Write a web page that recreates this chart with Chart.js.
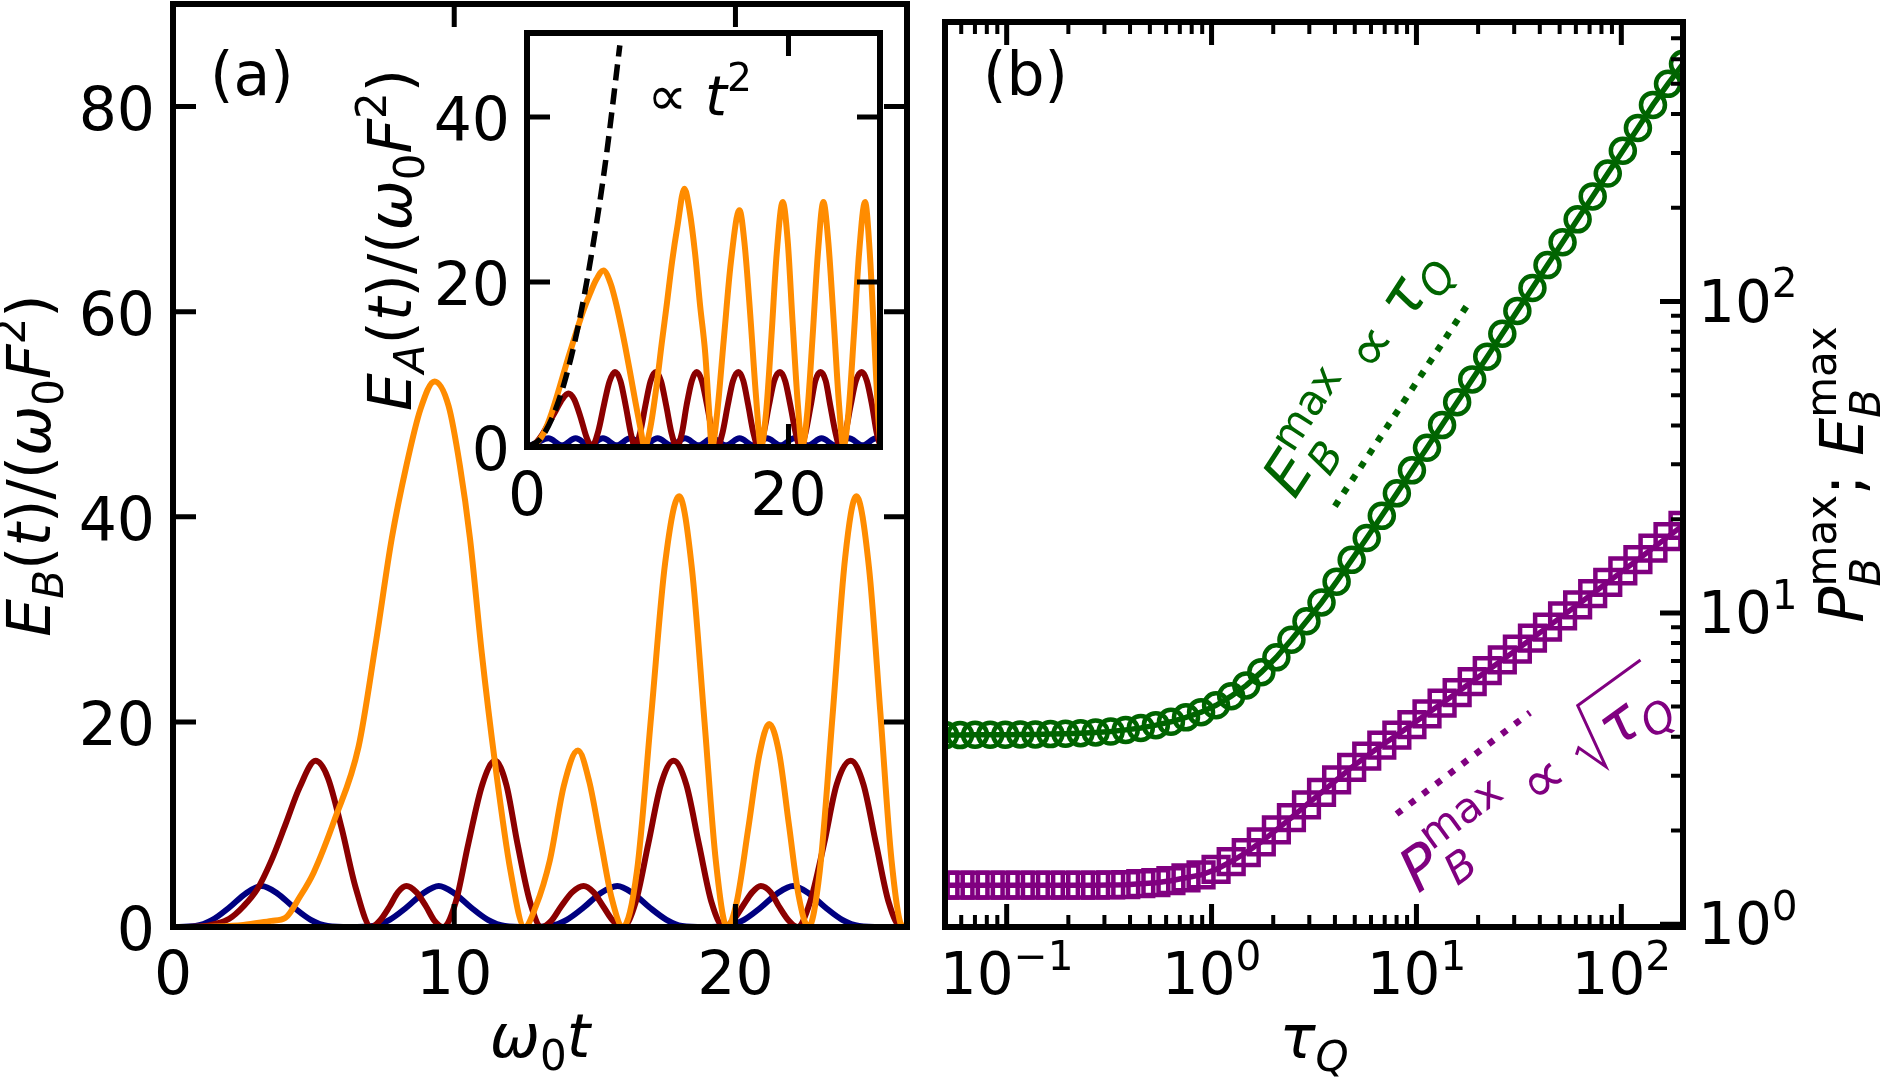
<!DOCTYPE html>
<html>
<head>
<meta charset="utf-8">
<script src="https://cdn.jsdelivr.net/npm/chart.js@4.4.1/dist/chart.umd.min.js"></script>
<style>
  html, body { margin: 0; padding: 0; background: #fff; overflow: hidden; }
  #wrap { position: relative; width: 1880px; height: 1077px; }
  canvas { position: absolute; }
</style>
</head>
<body>
<div id="wrap">
  <canvas id="chartA" width="940" height="1077" style="left:0px;top:0px"></canvas>
  <canvas id="chartInset" width="600" height="540" style="left:330px;top:0px"></canvas>
  <canvas id="chartB" width="960" height="1077" style="left:920px;top:0px"></canvas>
</div>
<script>
// ---------- panel (a): E_B(t) ----------
const tNavyB = [0, 0.8, 1.4, 2.0, 2.6, 3.15, 3.7, 4.3, 4.9, 5.5, 6.3,
  7.1, 7.7, 8.3, 8.9, 9.45, 10.0, 10.6, 11.2, 11.8, 12.6,
  13.4, 14.0, 14.6, 15.2, 15.8, 16.35, 16.95, 17.55, 18.1, 18.9,
  19.7, 20.3, 20.9, 21.5, 22.05, 22.6, 23.2, 23.8, 24.4, 25.2, 26.1];
const eNavyB = [0, 0.1, 0.7, 1.9, 3.3, 4.0, 3.3, 1.9, 0.7, 0.1, 0,
  0.1, 0.7, 1.9, 3.3, 4.0, 3.3, 1.9, 0.7, 0.1, 0,
  0.1, 0.7, 1.9, 3.3, 4.0, 3.3, 1.9, 0.7, 0.1, 0,
  0.1, 0.7, 1.9, 3.3, 4.0, 3.3, 1.9, 0.7, 0.1, 0, 0];

const tRedB = [0, 1.0, 1.5, 2.0, 2.5, 3.0, 3.5, 4.0, 4.5, 5.07, 5.5, 6.0, 6.5, 7.05,
  7.35, 7.7, 8.0, 8.3, 8.65, 9.0, 9.3, 9.6,
  10.05, 10.5, 11.0, 11.45, 11.85, 12.25, 12.7, 13.1,
  13.45, 13.8, 14.2, 14.6, 14.95, 15.3, 15.65, 16.0,
  16.45, 16.9, 17.35, 17.8, 18.25, 18.7, 19.15, 19.6,
  19.9, 20.25, 20.6, 20.9, 21.25, 21.55, 21.9, 22.2,
  22.65, 23.15, 23.6, 24.1, 24.55, 25.0, 25.45, 25.9, 26.1];
const eRedB = [0, 0.05, 0.3, 0.8, 2.0, 3.7, 6.5, 10.0, 13.6, 16.2, 14.6, 9.6, 3.8, 0,
  0.6, 2.0, 3.4, 4.0, 3.4, 2.0, 0.6, 0,
  2.4, 8.1, 13.9, 16.2, 13.9, 8.1, 2.4, 0,
  0.6, 2.0, 3.4, 4.0, 3.4, 2.0, 0.6, 0,
  2.4, 8.1, 13.9, 16.2, 13.9, 8.1, 2.4, 0,
  0.6, 2.0, 3.4, 4.0, 3.4, 2.0, 0.6, 0,
  2.4, 8.1, 13.9, 16.2, 13.9, 8.1, 2.4, 0, 0.2];

const tOrangeB = [0, 1.5, 2.5, 3.5, 4.0, 4.5, 5.0, 5.75, 6.6, 7.2, 7.78, 8.3, 8.8, 9.3, 9.8, 10.2, 10.56, 10.98, 11.45, 12.0, 12.5,
  12.9, 13.4, 13.9, 14.4, 14.8, 15.2, 15.6, 16.0,
  16.5, 17.0, 17.5, 18.0, 18.45, 18.9, 19.3, 19.7,
  20.05, 20.45, 20.85, 21.2, 21.55, 21.9, 22.25, 22.6,
  23.0, 23.45, 23.9, 24.3, 24.75, 25.15, 25.55, 25.95, 26.1];
const eOrangeB = [0, 0.05, 0.2, 0.6, 0.9, 2.9, 5.3, 10.5, 17.6, 27.5, 37.9, 45, 50.5, 53.2, 50.8, 45, 37.9, 26.7, 16, 5.5, 0,
  2.0, 6.5, 13.8, 17.2, 14.2, 8.5, 2.8, 0,
  5.5, 20.5, 35.5, 42, 35, 20, 6.5, 0,
  2.5, 9.5, 16.8, 19.8, 17, 10, 3, 0,
  5.5, 20.5, 36, 42, 35, 21, 6.5, 0, 0.3];

const xTicksA = [0, 10, 20];
const yTicksA = [0, 20, 40, 60, 80];

// ---------- inset: E_A(t) ----------
const tNavyA = [0, 0.8, 1.63, 2.68, 3.72, 4.77, 5.81, 6.86, 7.9, 8.95, 9.99, 11.04, 12.08, 13.13,
  14.17, 15.22, 16.26, 17.31, 18.35, 19.4, 20.44, 21.49, 22.53, 23.58, 24.62, 25.67, 26.71, 27.0];
const eNavyA = [0, 0.55, 1.05, 0.2, 1.05, 0.2, 1.05, 0.2, 1.05, 0.2, 1.05, 0.2, 1.05, 0.2,
  1.05, 0.2, 1.05, 0.2, 1.05, 0.2, 1.05, 0.2, 1.05, 0.2, 1.05, 0.2, 1.05, 0.95];

const tRedA = [0, 0.6, 1.2, 1.7, 2.2, 2.7, 3.16, 3.6, 4.1, 4.55, 4.95,
  5.45, 5.9, 6.3, 6.73, 7.15, 7.55, 7.95, 8.26,
  8.65, 9.05, 9.45, 9.85, 10.25, 10.65, 11.05, 11.45,
  11.85, 12.2, 12.6, 12.98, 13.38, 13.78, 14.18, 14.56,
  14.95, 15.35, 15.75, 16.17, 16.55, 16.93, 17.32, 17.7,
  18.1, 18.5, 18.9, 19.35, 19.75, 20.15, 20.55, 20.9,
  21.3, 21.7, 22.05, 22.45, 22.85, 23.2, 23.6, 23.95,
  24.35, 24.75, 25.15, 25.6, 26.0, 26.4, 26.75, 27.0];
const eRedA = [0, 0.4, 1.6, 3.0, 4.4, 5.8, 6.5, 5.8, 3.6, 1.2, 0,
  1.9, 5.2, 7.9, 9.1, 8.0, 5.0, 1.6, 0,
  1.7, 5.0, 8.0, 9.1, 8.0, 5.0, 1.7, 0,
  1.7, 5.0, 8.0, 9.1, 8.0, 5.0, 1.7, 0,
  1.7, 5.0, 8.0, 9.1, 8.0, 5.0, 1.7, 0,
  1.7, 5.0, 8.0, 9.1, 8.0, 5.0, 1.7, 0,
  1.7, 5.0, 8.0, 9.1, 8.0, 5.0, 1.7, 0,
  1.7, 5.0, 8.0, 9.1, 8.0, 5.0, 1.7, 0.2];

const tOrangeA = [0, 0.6, 1.25, 1.9, 2.5, 3.15, 3.8, 4.3, 4.82, 5.3, 5.84, 6.4, 6.8, 7.1, 7.5, 7.9, 8.3, 8.65, 9.0,
  9.45, 9.9, 10.3, 10.7, 11.1, 11.5, 12.04, 12.45, 12.86, 13.25, 13.63, 13.9, 14.15,
  14.55, 15.05, 15.6, 16.25, 16.65, 17.1, 17.5, 17.9,
  18.3, 18.7, 19.1, 19.56, 19.95, 20.3, 20.7, 21.05,
  21.45, 21.85, 22.25, 22.67, 23.05, 23.45, 23.85, 24.2,
  24.6, 25.0, 25.4, 25.86, 26.2, 26.55, 26.85, 27.0];
const eOrangeA = [0, 0.3, 1.6, 4.2, 7.3, 10.8, 14.1, 16.5, 18.6, 20.3, 21.4, 19.8, 17.5, 15.4, 12.3, 8.9, 5.4, 2.5, 0,
  2.5, 7.3, 12.5, 17.4, 22.5, 26.7, 31.3, 28.5, 23.4, 17, 11.4, 5.0, 0,
  4.2, 13, 22.5, 28.7, 24.5, 15.5, 6.5, 0,
  4.4, 13.5, 23.5, 29.7, 24.8, 15.5, 5.5, 0,
  4.4, 13.5, 23.5, 29.7, 24.8, 15.5, 5.5, 0,
  4.4, 13.5, 23.5, 29.7, 24, 13.5, 4, 0.8];

// dashed guide, grows like t^2
const tGuide = [0, 1, 2, 3, 4, 5, 6, 7.1];
const eGuide = [0, 0.95, 3.8, 8.6, 15.3, 24, 34.5, 48.7];

const xTicksInset = [0, 20];
const yTicksInset = [0, 20, 40];

// ---------- panel (b): maxima vs tau_Q ----------
const tauQ = [0.05, 0.0592, 0.0701, 0.0831, 0.0984, 0.1165, 0.138, 0.1635, 0.1937, 0.2294,
  0.2717, 0.3218, 0.3812, 0.4515, 0.5348, 0.6334, 0.7502, 0.8886, 1.052, 1.247,
  1.477, 1.749, 2.072, 2.454, 2.906, 3.442, 4.077, 4.829, 5.72, 6.776,
  8.025, 9.506, 11.26, 13.34, 15.8, 18.71, 22.16, 26.25, 31.09, 36.83,
  43.62, 51.67, 61.2, 72.49, 85.86, 101.7, 120.5, 142.7, 169.0, 200];
const eMax = [4.05, 4.05, 4.06, 4.06, 4.06, 4.07, 4.07, 4.08, 4.09, 4.11,
  4.13, 4.16, 4.21, 4.27, 4.36, 4.47, 4.62, 4.80, 5.05, 5.40,
  5.85, 6.45, 7.20, 8.20, 9.40, 10.8, 12.6, 14.8, 17.4, 20.5,
  24.2, 28.7, 33.9, 40.1, 47.5, 56.2, 66.5, 78.8, 93.3, 110.5,
  130.9, 155.0, 183.6, 217.5, 257.6, 305, 361, 428, 500, 580];
const pMax = [1.335, 1.335, 1.335, 1.335, 1.335, 1.335, 1.335, 1.335, 1.335, 1.335,
  1.335, 1.337, 1.34, 1.35, 1.36, 1.38, 1.41, 1.44, 1.50, 1.59,
  1.70, 1.84, 2.01, 2.20, 2.42, 2.65, 2.91, 3.19, 3.47, 3.76,
  4.05, 4.38, 4.74, 5.13, 5.55, 6.02, 6.52, 7.06, 7.65, 8.30,
  9.00, 9.78, 10.62, 11.54, 12.54, 13.64, 14.84, 16.15, 17.57, 19.1];

// dotted guides: E ~ tau, P ~ sqrt(tau)
const tauGuideE = [4.0, 18.2];
const eGuideLine = [22.0, 100.1];
const tauGuideP = [8.0, 35.8];
const pGuideLine = [2.26, 4.78];

const xMajorB = [0.1, 1, 10, 100];
const xExpB = ['\u22121', '0', '1', '2'];
const yMajorB = [1, 10, 100];
const yExpB = ['0', '1', '2'];

const NAVY = '#000080', DARKRED = '#8b0000', ORANGE = '#ff8c00';
const GREEN = '#006400', PURPLE = '#800080';
const FONT = '"DejaVu Sans", sans-serif';
const LW = 6;

function font(size, italic) {
  return (italic ? 'italic ' : '') + size + 'px ' + FONT;
}

// parts: [text, kind, italic]; kind n = normal, b = sub, p = sup, bp = [sub, sup] stacked
function layoutRich(ctx, parts, size) {
  const small = size * 0.7;
  const items = [];
  let w = 0;
  parts.forEach(([txt, kind, it]) => {
    if (kind === 'bp') {
      ctx.font = font(small, it);
      const w1 = ctx.measureText(txt[0]).width;
      items.push({ txt: txt[0], x: w, dy: size * 0.28, f: ctx.font });
      ctx.font = font(small, false);
      const w2 = ctx.measureText(txt[1]).width;
      items.push({ txt: txt[1], x: w, dy: -size * 0.45, f: ctx.font });
      w += Math.max(w1, w2);
      return;
    }
    const sz = kind === 'n' ? size : small;
    const dy = kind === 'b' ? size * 0.22 : kind === 'p' ? -size * 0.42 : 0;
    ctx.font = font(sz, it);
    items.push({ txt, x: w, dy, f: ctx.font });
    w += ctx.measureText(txt).width;
  });
  return { items, w };
}

function drawRich(ctx, parts, x, y, size, align) {
  const L = layoutRich(ctx, parts, size);
  const x0 = align === 'center' ? x - L.w / 2 : align === 'right' ? x - L.w : x;
  ctx.textAlign = 'left';
  ctx.textBaseline = 'alphabetic';
  L.items.forEach(it => {
    ctx.font = it.f;
    ctx.fillText(it.txt, x0 + it.x, y + it.dy);
  });
  return L.w;
}

function yLabelParts(sub) {
  return [['E', 'n', true], [sub, 'b', true], ['(', 'n', false], ['t', 'n', true], [')/(', 'n', false],
    ['\u03c9', 'n', true], ['0', 'b', false], ['F', 'n', true], ['2', 'p', false], [')', 'n', false]];
}

function pts(xs, ys) {
  return xs.map((x, i) => ({ x, y: ys[i] }));
}

function curve(data, color, extra) {
  return Object.assign({
    data, borderColor: color, borderWidth: LW, pointRadius: 0, fill: false,
    cubicInterpolationMode: 'monotone'
  }, extra || {});
}

function baseOptions(pad, xr, yr, xType, yType) {
  return {
    responsive: false, animation: false, devicePixelRatio: 1, events: [],
    layout: { padding: pad },
    plugins: { legend: { display: false }, tooltip: { enabled: false } },
    scales: {
      x: { type: xType || 'linear', min: xr[0], max: xr[1], display: false },
      y: { type: yType || 'linear', min: yr[0], max: yr[1], display: false }
    }
  };
}

function ticksX(ctx, a, sx, vals, len, lw) {
  ctx.lineWidth = lw;
  ctx.beginPath();
  vals.forEach(v => {
    const p = sx.getPixelForValue(v);
    ctx.moveTo(p, a.bottom); ctx.lineTo(p, a.bottom - len);
    ctx.moveTo(p, a.top); ctx.lineTo(p, a.top + len);
  });
  ctx.stroke();
}

function ticksY(ctx, a, sy, vals, len, lw, rightOnly) {
  ctx.lineWidth = lw;
  ctx.beginPath();
  vals.forEach(v => {
    const p = sy.getPixelForValue(v);
    if (!rightOnly) { ctx.moveTo(a.left, p); ctx.lineTo(a.left + len, p); }
    ctx.moveTo(a.right, p); ctx.lineTo(a.right - len, p);
  });
  ctx.stroke();
}

// frame, inward ticks and labels, drawn on top of the data like matplotlib spines
function axesPlugin(spec) {
  return {
    id: 'axes_' + spec.name,
    beforeDraw(chart) {
      if (!spec.fill) return;
      const a = chart.chartArea, ctx = chart.ctx;
      ctx.save();
      ctx.fillStyle = '#fff';
      ctx.fillRect(a.left, a.top, a.right - a.left, a.bottom - a.top);
      ctx.restore();
    },
    afterDraw(chart) {
      const { ctx, chartArea: a } = chart;
      const sx = chart.scales.x, sy = chart.scales.y;
      ctx.save();
      ctx.strokeStyle = '#000';
      ctx.fillStyle = '#000';
      ctx.lineCap = 'butt';
      ticksX(ctx, a, sx, spec.xMajor, 23, 5);
      ticksY(ctx, a, sy, spec.yMajor, 23, 5, spec.yRightOnly);
      if (spec.xMinor) ticksX(ctx, a, sx, spec.xMinor, 12, 4);
      if (spec.yMinor) ticksY(ctx, a, sy, spec.yMinor, 12, 4, spec.yRightOnly);
      ctx.lineWidth = 6;
      ctx.lineJoin = 'miter';
      ctx.strokeRect(a.left, a.top, a.right - a.left, a.bottom - a.top);
      spec.labels(ctx, a, sx, sy);
      ctx.restore();
    }
  };
}

function minorLog(lo, hi) {
  const out = [];
  for (let d = 0.01; d <= 1000; d *= 10) {
    for (let k = 2; k <= 9; k++) {
      const v = k * d;
      if (v >= lo * 0.999 && v <= hi * 1.001) out.push(v);
    }
  }
  return out;
}

// ---------- chart (a) ----------
new Chart(document.getElementById('chartA'), {
  type: 'line',
  data: { datasets: [
    curve(pts(tOrangeB, eOrangeB), ORANGE),
    curve(pts(tRedB, eRedB), DARKRED),
    curve(pts(tNavyB, eNavyB), NAVY)
  ] },
  options: baseOptions({ left: 173, top: 4, right: 940 - 907, bottom: 1077 - 927 }, [0, 26.1], [0, 90]),
  plugins: [axesPlugin({
    name: 'a', xMajor: xTicksA, yMajor: yTicksA,
    labels(ctx, a, sx, sy) {
      ctx.font = font(60);
      ctx.textAlign = 'right';
      ctx.textBaseline = 'alphabetic';
      yTicksA.forEach(v => ctx.fillText(String(v), a.left - 18, sy.getPixelForValue(v) + 23));
      ctx.textAlign = 'center';
      xTicksA.forEach(v => ctx.fillText(String(v), sx.getPixelForValue(v), a.bottom + 67));
      drawRich(ctx, [['\u03c9', 'n', true], ['0', 'b', false], ['t', 'n', true]],
        (a.left + a.right) / 2, a.bottom + 130, 60, 'center');
      ctx.save();
      ctx.translate(a.left - 123, (a.top + a.bottom) / 2);
      ctx.rotate(-Math.PI / 2);
      drawRich(ctx, yLabelParts('B'), 0, 0, 60, 'center');
      ctx.restore();
      ctx.font = font(60);
      ctx.textAlign = 'left';
      ctx.fillText('(a)', a.left + 37, 95);
    }
  })]
});

// ---------- inset ----------
new Chart(document.getElementById('chartInset'), {
  type: 'line',
  data: { datasets: [
    curve(pts(tGuide, eGuide), '#000', { borderWidth: 5.5, borderDash: [16, 8] }),
    curve(pts(tOrangeA, eOrangeA), ORANGE),
    curve(pts(tRedA, eRedA), DARKRED),
    curve(pts(tNavyA, eNavyA), NAVY)
  ] },
  options: baseOptions({ left: 527 - 330, top: 33, right: 600 - (880 - 330), bottom: 540 - 447 }, [0, 27.0], [0, 50.2]),
  plugins: [axesPlugin({
    name: 'inset', fill: true, xMajor: xTicksInset, yMajor: yTicksInset,
    labels(ctx, a, sx, sy) {
      ctx.font = font(60);
      ctx.textAlign = 'right';
      ctx.textBaseline = 'alphabetic';
      yTicksInset.forEach(v => ctx.fillText(String(v), a.left - 17, sy.getPixelForValue(v) + 23));
      ctx.textAlign = 'center';
      xTicksInset.forEach(v => ctx.fillText(String(v), sx.getPixelForValue(v), a.bottom + 68));
      ctx.save();
      ctx.translate(a.left - 116, (a.top + a.bottom) / 2);
      ctx.rotate(-Math.PI / 2);
      drawRich(ctx, yLabelParts('A'), 0, 0, 60, 'center');
      ctx.restore();
      drawRich(ctx, [['\u221d ', 'n', false], ['t', 'n', true], ['2', 'p', false]],
        sx.getPixelForValue(9.2), sy.getPixelForValue(40.3), 56, 'left');
    }
  })]
});

// ---------- chart (b) ----------
new Chart(document.getElementById('chartB'), {
  type: 'line',
  data: { datasets: [
    { data: pts(tauQ, eMax), borderColor: GREEN, borderWidth: 5.5, tension: 0,
      pointStyle: 'circle', pointRadius: 12, pointBorderWidth: 4.5,
      pointBorderColor: GREEN, pointBackgroundColor: 'rgba(0,0,0,0)' },
    { data: pts(tauQ, pMax), borderColor: PURPLE, borderWidth: 5.5, tension: 0,
      pointStyle: 'rect', pointRadius: 17.5, pointBorderWidth: 4.5,
      pointBorderColor: PURPLE, pointBackgroundColor: 'rgba(0,0,0,0)' },
    { data: pts(tauGuideE, eGuideLine), borderColor: GREEN, borderWidth: 6.5,
      borderDash: [6.5, 9], pointRadius: 0, borderCapStyle: 'butt' },
    { data: pts(tauGuideP, pGuideLine), borderColor: PURPLE, borderWidth: 6.5,
      borderDash: [6.5, 10], pointRadius: 0, borderCapStyle: 'butt' }
  ] },
  options: baseOptions({ left: 945 - 920, top: 4, right: 960 - (1683 - 920), bottom: 1077 - 927 },
    [0.05, 200], [0.98, 790], 'logarithmic', 'logarithmic'),
  plugins: [axesPlugin({
    name: 'b', xMajor: xMajorB, yMajor: yMajorB, yRightOnly: true,
    xMinor: minorLog(0.05, 200), yMinor: minorLog(0.98, 790),
    labels(ctx, a, sx, sy) {
      xMajorB.forEach((v, i) => drawRich(ctx, [['10', 'n', false], [xExpB[i], 'p', false]],
        sx.getPixelForValue(v), a.bottom + 67, 58, 'center'));
      yMajorB.forEach((v, i) => drawRich(ctx, [['10', 'n', false], [yExpB[i], 'p', false]],
        a.right + 15, sy.getPixelForValue(v) + 20, 58, 'left'));
      drawRich(ctx, [['\u03c4', 'n', true], ['Q', 'b', true]],
        (a.left + a.right) / 2, a.bottom + 131, 60, 'center');
      ctx.save();
      ctx.translate(a.right + 180, (a.top + a.bottom) / 2);
      ctx.rotate(-Math.PI / 2);
      drawRich(ctx, [['P', 'n', true], [['B', 'max'], 'bp', true], ['; ', 'n', false],
        ['E', 'n', true], [['B', 'max'], 'bp', true]], 0, 0, 60, 'center');
      ctx.restore();
      ctx.font = font(60);
      ctx.textAlign = 'left';
      ctx.fillText('(b)', a.left + 38, 95);

      // E_B^max ~ tau_Q
      ctx.save();
      ctx.fillStyle = GREEN;
      ctx.translate(sx.getPixelForValue(2.55), sy.getPixelForValue(23.0));
      ctx.rotate(-57 * Math.PI / 180);
      drawRich(ctx, [['E', 'n', true], [['B', 'max'], 'bp', true], [' \u221d ', 'n', false],
        ['\u03c4', 'n', true], ['Q', 'b', true]], 0, 0, 60, 'left');
      ctx.restore();

      // P_B^max ~ sqrt(tau_Q)
      ctx.save();
      ctx.fillStyle = PURPLE;
      ctx.strokeStyle = PURPLE;
      ctx.translate(sx.getPixelForValue(10.2), sy.getPixelForValue(1.25));
      ctx.rotate(-36 * Math.PI / 180);
      const s = 60;
      const w = drawRich(ctx, [['P', 'n', true], [['B', 'max'], 'bp', true], [' \u221d ', 'n', false]], 0, 0, s, 'left');
      const wt = layoutRich(ctx, [['\u03c4', 'n', true], ['Q', 'b', true]], s).w;
      ctx.lineWidth = 3;
      ctx.lineJoin = 'miter';
      ctx.beginPath();
      ctx.moveTo(w + 0.02 * s, -0.33 * s);
      ctx.lineTo(w + 0.12 * s, -0.40 * s);
      ctx.lineTo(w + 0.30 * s, 0.12 * s);
      ctx.lineTo(w + 0.52 * s, -0.98 * s);
      ctx.lineTo(w + 0.66 * s + wt, -0.98 * s);
      ctx.stroke();
      drawRich(ctx, [['\u03c4', 'n', true], ['Q', 'b', true]], w + 0.60 * s, 0, s, 'left');
      ctx.restore();
    }
  })]
});
</script>
</body>
</html>
